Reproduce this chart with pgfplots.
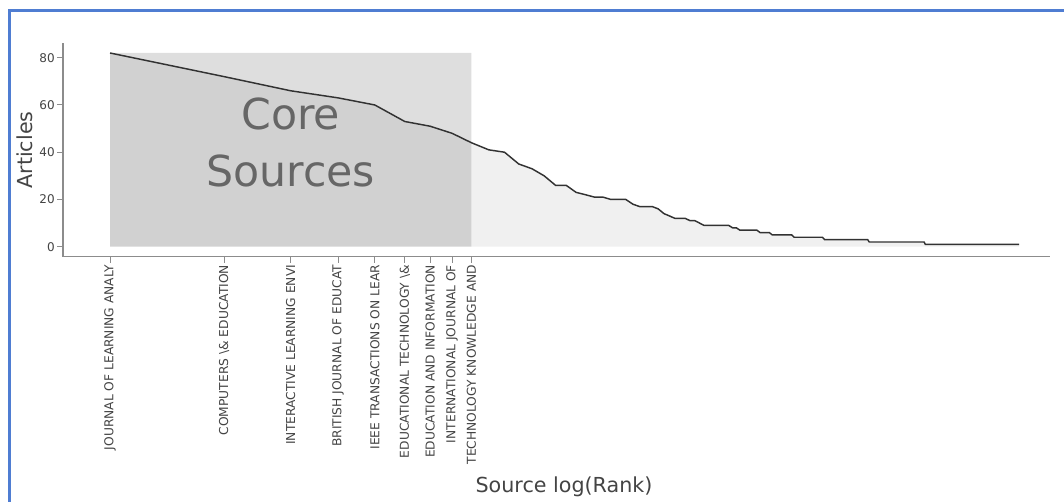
\documentclass[border=0pt]{standalone}
\usepackage{pgfplots}
\pgfplotsset{compat=1.18}
\usepackage{pgfplotstable}
\usepackage{fontspec}
\setmainfont{DejaVu Sans}
\definecolor{framecol}{RGB}{79,125,210}
\definecolor{txt}{RGB}{68,68,68}
\definecolor{axcol}{RGB}{140,140,140}
\definecolor{linecol}{RGB}{50,50,50}

% Bradford law: articles per source by rank (only the break points of each run)
\pgfplotstableread{
rank articles
1 82
2 72
3 66
4 63
5 60
6 53
7 51
8 48
9 44
10 41
11 40
12 35
13 33
14 30
15 26
16 26
17 23
18 22
19 21
20 21
21 20
23 20
24 18
25 17
27 17
28 16
29 14
30 13
31 12
33 12
34 11
35 11
36 10
37 9
43 9
44 8
45 8
46 7
51 7
52 6
55 6
56 5
63 5
64 4
76 4
77 3
100 3
101 2
141 2
142 1
251 1
}\bradford

\begin{document}
\begin{tikzpicture}
\path[use as bounding box] (0,0) rectangle (798pt,375.75pt);
\draw[framecol, line width=1.6pt] (7.125pt,-2pt) -- (7.125pt,367.875pt) -- (800pt,367.875pt);
\begin{axis}[
    at={(47.25pt,183.225pt)}, anchor=south west,
    scale only axis,
    width=740.25pt, height=160.05pt,
    xmode=log, xmin=0.7515, xmax=303,
    ymin=-4.23, ymax=86.1,
    axis x line=bottom, axis y line=left,
    axis line style={axcol, line width=0.9pt, -},
    xtick={1,2,3,4,5,6,7,8,9}, minor xtick={},
    xticklabels={JOURNAL OF LEARNING ANALY,
        COMPUTERS \textbackslash\& EDUCATION,
        INTERACTIVE LEARNING ENVI,
        BRITISH JOURNAL OF EDUCAT,
        IEEE TRANSACTIONS ON LEAR,
        EDUCATIONAL TECHNOLOGY \textbackslash\&,
        EDUCATION AND INFORMATION,
        INTERNATIONAL JOURNAL OF,
        TECHNOLOGY KNOWLEDGE AND},
    ytick={0,20,40,60,80},
    tick align=outside, major tick length=4.5pt,
    tick style={axcol, line width=0.75pt},
    xticklabel style={rotate=90, anchor=east, font=\fontsize{9.2}{10}\selectfont, text=txt, inner sep=1.5pt},
    yticklabel style={font=\fontsize{9}{10}\selectfont, text=txt, inner sep=1.5pt},
    /pgf/number format/assume math mode=true,
    ylabel={Articles},
    ylabel style={at={(axis description cs:-0.0385,0.5)}, anchor=center, font=\fontsize{15.5}{18}\selectfont, text=txt},
    xlabel={Source log(Rank)},
    xlabel style={at={(axis description cs:0.5076,-1.078)}, anchor=center, font=\fontsize{15.5}{18}\selectfont, text=txt},
]
% core sources zone
\addplot[draw=none, fill=black, fill opacity=0.13] coordinates {(1,0) (1,82) (9,82) (9,0)} \closedcycle;
% area under the curve
\addplot[draw=none, fill=black, fill opacity=0.06] table[x=rank, y=articles] {\bradford} \closedcycle;
\addplot[linecol, line width=1.1pt] table[x=rank, y=articles] {\bradford};
\node[align=center, text=black!60, font=\fontsize{32}{42.5}\selectfont] at (axis cs:3,44) {Core\\Sources};
\end{axis}
\end{tikzpicture}
\end{document}
